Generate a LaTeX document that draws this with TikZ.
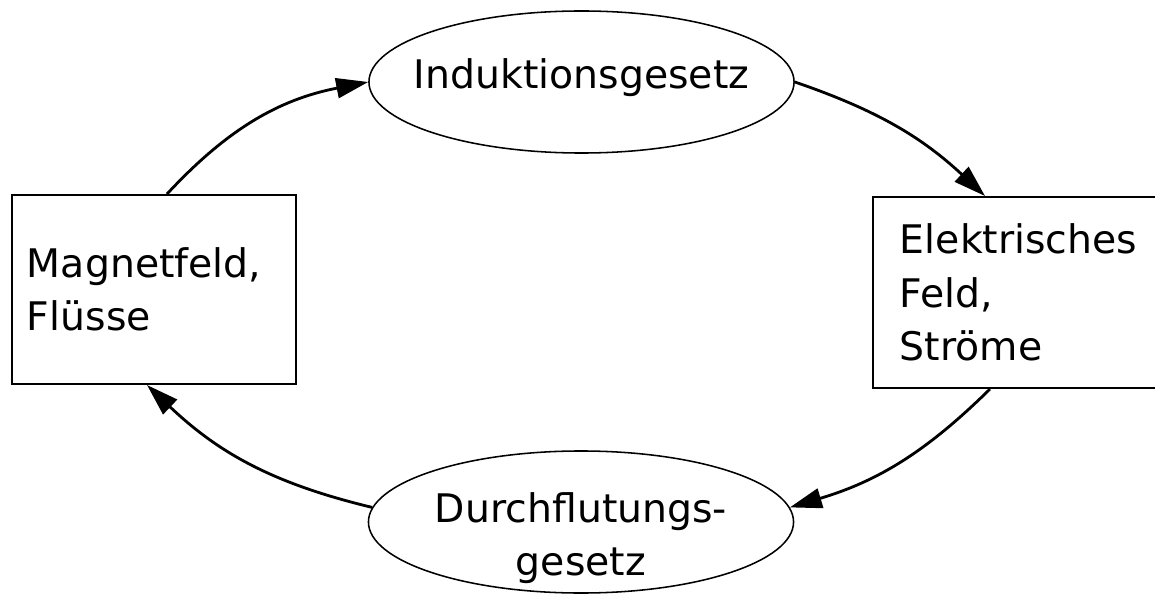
\documentclass[tikz,border=0pt]{standalone}
\usepackage{fontspec}
\setmainfont{DejaVu Sans}
\usetikzlibrary{shapes.geometric,arrows.meta}
\begin{document}
\begin{tikzpicture}[x=0.025cm,y=0.025cm,font=\fontsize{28pt}{38pt}\selectfont,
  oval/.style={draw,ellipse,line width=1.1pt,minimum width=10.625cm,minimum height=3.55cm,inner sep=0pt},
  box/.style={draw,rectangle,line width=1.4pt,align=left},
  link/.style={line width=2pt,-{Triangle[length=0.8cm,width=0.5cm]}}]
\useasboundingbox (0,0) rectangle (1155,593);
\clip (0,0) rectangle (1155,593);
\node[oval,label={[yshift=0.1cm]center:Induktionsgesetz}](ind) at (581.5,511) {};
\node[oval,label={[align=center,yshift=-0.4cm]center:Durchflutungs-\\gesetz}](durch) at (581,71) {};
\node[box,text width=6.35cm,inner xsep=0.375cm,minimum height=4.725cm](mag) at (154,303.5) {Magnetfeld,\\Flüsse};
\node[box,text width=5.95cm,inner xsep=0.675cm,minimum height=4.775cm](ele) at (1019,300.5) {Elektrisches\\Feld,\\Ströme};
\draw[link] ([xshift=0.325cm]mag.north) to[bend left=18] (ind.west);
\draw[link] (ind.east) to[bend left=12] ([xshift=-0.85cm]ele.north);
\draw[link] ([xshift=-0.725cm]ele.south) to[bend left=14] (durch.4);
\draw[link] (durch.176) to[bend left=15] ([xshift=-0.175cm]mag.south);
\end{tikzpicture}
\end{document}
